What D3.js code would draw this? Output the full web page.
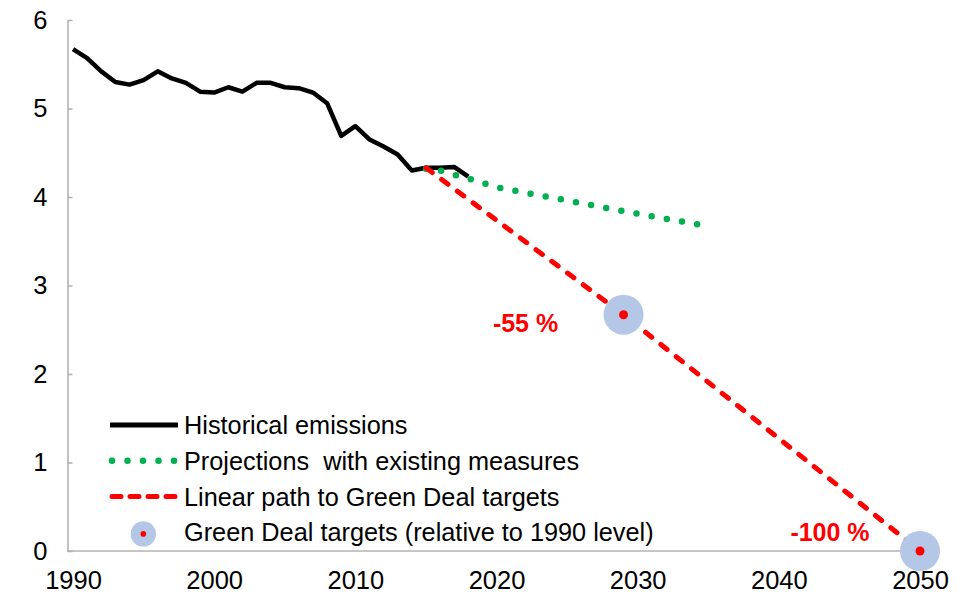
<!DOCTYPE html>
<html>
<head>
<meta charset="utf-8">
<script src="https://cdn.jsdelivr.net/npm/d3@7"></script>
<style>
  body { margin: 0; background: #fff; }
  svg { display: block; font-family: "Liberation Sans", Arial, sans-serif; }
</style>
</head>
<body>
<div id="viz"></div>
<script>
// historical emissions (Gt CO2e)
var histYears = [1990,1991,1992,1993,1994,1995,1996,1997,1998,1999,2000,2001,2002,2003,2004,
  2005,2006,2007,2008,2009,2010,2011,2012,2013,2014,2015,2016,2017,2018];
var histValues = [5.67,5.57,5.42,5.30,5.27,5.32,5.42,5.34,5.29,5.19,5.18,5.24,5.19,5.29,5.29,
  5.24,5.23,5.18,5.06,4.69,4.80,4.65,4.57,4.48,4.30,4.33,4.33,4.34,4.23];

// projections with existing measures
var projYears = [2015,2016,2017,2018,2019,2020,2025,2030,2035];
var projValues = [4.32,4.30,4.25,4.21,4.16,4.11,3.96,3.81,3.67];

// linear path to targets
var pathYears = [2015,2029,2050];
var pathValues = [4.33,2.67,0];

// targets
var targetYears = [2029,2050];
var targetValues = [2.67,0];
var targetLabels = ["-55 %","-100 %"];

var xTicks = [1990,2000,2010,2020,2030,2040,2050];
var yTicks = [0,1,2,3,4,5,6];

var legendLabels = ["Historical emissions","Projections  with existing measures",
  "Linear path to Green Deal targets","Green Deal targets (relative to 1990 level)"];

var width = 972, height = 594;
var red = "#ff0000", green = "#00b050", blue = "#b4c7e7", axisCol = "#b3b3b3";

var svg = d3.select("#viz").append("svg").attr("width", width).attr("height", height);

var x = d3.scaleLinear().domain([1990, 2050]).range([73, 920]);
var y = d3.scaleLinear().domain([0, 6]).range([551, 20]);

var left = x(1990) - 5.5, right = x(2050) + 5.5;

// y axis
var yAxis = svg.append("g")
    .attr("transform", "translate(" + left + ",0)")
    .call(d3.axisLeft(y).tickValues(yTicks).tickFormat(d3.format("d"))
      .tickSizeInner(-5).tickSizeOuter(0).tickPadding(20));
yAxis.select(".domain").attr("stroke", axisCol).attr("stroke-width", 1.6);
yAxis.selectAll(".tick line").attr("stroke", axisCol).attr("stroke-width", 1.6);
yAxis.selectAll(".tick text").attr("font-size", 25.5).attr("fill", "#000")
    .attr("font-family", "Liberation Sans, Arial, sans-serif");

// x baseline
svg.append("line")
    .attr("x1", left).attr("x2", right)
    .attr("y1", y(0)).attr("y2", y(0))
    .attr("stroke", axisCol).attr("stroke-width", 1.6);

var xAxis = svg.append("g")
    .attr("transform", "translate(0," + y(0) + ")")
    .call(d3.axisBottom(x).tickValues(xTicks).tickFormat(d3.format("d")).tickSize(0).tickPadding(20));
xAxis.select(".domain").remove();
xAxis.selectAll(".tick text").attr("font-size", 25.5).attr("fill", "#000")
    .attr("font-family", "Liberation Sans, Arial, sans-serif");

var line = d3.line().x(function(d){ return x(d[0]); }).y(function(d){ return y(d[1]); });

// historical
svg.append("path")
    .datum(histYears.map(function(d, i){ return [d, histValues[i]]; }))
    .attr("d", line)
    .attr("fill", "none").attr("stroke", "#000").attr("stroke-width", 4.5)
    .attr("stroke-linejoin", "round");

// projections
svg.append("path")
    .datum(projYears.map(function(d, i){ return [d, projValues[i]]; }))
    .attr("d", line)
    .attr("fill", "none").attr("stroke", green).attr("stroke-width", 6.5)
    .attr("stroke-linecap", "round").attr("stroke-dasharray", "0,15.4");

// linear path
svg.append("path")
    .datum(pathYears.map(function(d, i){ return [d, pathValues[i]]; }))
    .attr("d", line)
    .attr("fill", "none").attr("stroke", red).attr("stroke-width", 5)
    .attr("stroke-linecap", "round").attr("stroke-dasharray", "8,11.6");

// targets
var targets = targetYears.map(function(d, i){ return {year: d, value: targetValues[i], label: targetLabels[i]}; });
var tg = svg.selectAll(".target").data(targets).enter().append("g").attr("class", "target");
tg.append("circle")
    .attr("cx", function(d){ return x(d.year); })
    .attr("cy", function(d){ return y(d.value); })
    .attr("r", 20).attr("fill", blue);
tg.append("circle")
    .attr("cx", function(d){ return x(d.year); })
    .attr("cy", function(d){ return y(d.value); })
    .attr("r", 4.5).attr("fill", red);
tg.append("text")
    .attr("x", function(d){ return x(d.year) - 98 + (d.value === 0 ? 8 : 0); })
    .attr("y", function(d){ return y(d.value) + (d.value === 0 ? -10 : 17); })
    .attr("text-anchor", "middle")
    .attr("font-size", 25).attr("font-weight", "bold").attr("fill", red)
    .text(function(d){ return d.label; });

// legend
var lx0 = 110, lx1 = 178, ly0 = 425, ldy = 35.8;
var leg = svg.append("g").attr("class", "legend");
legendLabels.forEach(function(lab, i){
  var ly = ly0 + i * ldy;
  if (i == 0) {
    leg.append("line").attr("x1", lx0).attr("x2", lx1).attr("y1", ly).attr("y2", ly)
      .attr("stroke", "#000").attr("stroke-width", 5);
  } else if (i == 1) {
    leg.append("line").attr("x1", lx0 + 2).attr("x2", lx1 - 2).attr("y1", ly).attr("y2", ly)
      .attr("stroke", green).attr("stroke-width", 6.5)
      .attr("stroke-linecap", "round").attr("stroke-dasharray", "0,15.5");
  } else if (i == 2) {
    leg.append("line").attr("x1", lx0 + 2).attr("x2", lx1 - 2).attr("y1", ly).attr("y2", ly)
      .attr("stroke", red).attr("stroke-width", 5)
      .attr("stroke-linecap", "round").attr("stroke-dasharray", "9,9");
  } else {
    leg.append("circle").attr("cx", (lx0 + lx1) / 2 - 0.7).attr("cy", ly + 1.5).attr("r", 12.7).attr("fill", blue);
    leg.append("circle").attr("cx", (lx0 + lx1) / 2 - 0.7).attr("cy", ly + 1.5).attr("r", 2.8).attr("fill", red);
  }
  leg.append("text")
    .attr("x", 184).attr("y", ly + 9)
    .attr("font-size", 25.3).attr("fill", "#000")
    .style("white-space", "pre")
    .text(lab);
});
</script>
</body>
</html>
